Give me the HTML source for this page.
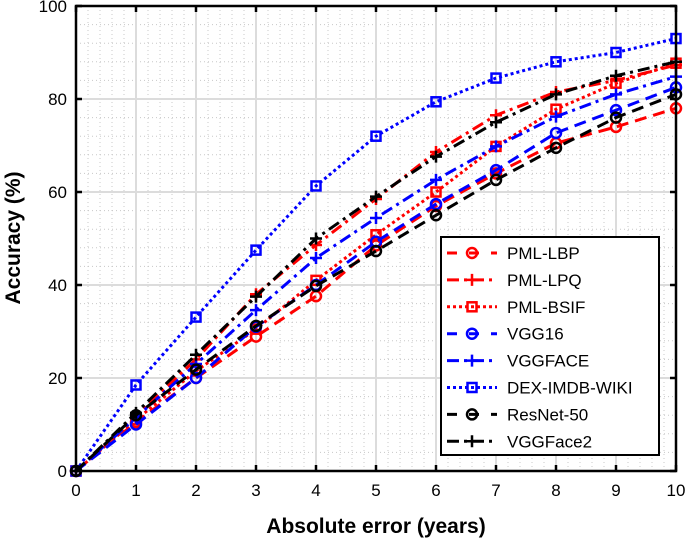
<!DOCTYPE html>
<html><head><meta charset="utf-8"><style>
html,body{margin:0;padding:0;background:#fff}
svg{display:block;font-family:"Liberation Sans",Arial,sans-serif}
</style></head><body>
<svg id="c" width="685" height="541" viewBox="0 0 685 541">
<g id="grid"></g><g id="series"></g><g id="axes"></g><g id="legend"></g>
</svg>
<script>
const xTicks=[0,1,2,3,4,5,6,7,8,9,10];
const yTicks=[0,20,40,60,80,100];
const names=["PML-LBP","PML-LPQ","PML-BSIF","VGG16","VGGFACE","DEX-IMDB-WIKI","ResNet-50","VGGFace2"];
const lbp=[0,10.5,20,28.9,37.6,48.5,57,64,70.5,74,78];
const lpq=[0,12,24,38,48.6,58.5,68.6,76.5,81.5,84,87.3];
const bsif=[0,11,21.5,30.5,41,50.8,60,69.8,77.8,83.4,87.7];
const vgg16=[0,10,20,31,40,49.3,57.4,64.7,72.7,77.6,82.5];
const vggface=[0,11.5,23,34.6,45.8,54.4,62.6,69.8,76.2,81,84.8];
const dex=[0,18.5,33.1,47.5,61.3,72,79.4,84.5,88,90,93];
const resnet=[0,12,21.8,31.2,39.8,47.3,55,62.6,69.5,76,81];
const vggface2=[0,12.5,25,37.5,50,59,67.6,75,81,85,88];
const data=[lbp,lpq,bsif,vgg16,vggface,dex,resnet,vggface2];
const colors=["#ff0000","#ff0000","#ff0000","#0000ff","#0000ff","#0000ff","#000000","#000000"];
const styles=["dash","dashdot","dot","dash","dashdot","dot","dash","dashdot"];
const markers=["o","+","s","o","+","s","o","+"];
const X0=76,X1=676,Y0=471,Y1=6;
const sx=v=>X0+(v-0)/(10-0)*(X1-X0);
const sy=v=>Y0-(v-0)/(100-0)*(Y0-Y1);
const NS="http://www.w3.org/2000/svg";
function mk(t,a,p){const e=document.createElementNS(NS,t);for(const k in a)e.setAttribute(k,a[k]);p.appendChild(e);return e;}
const dashes={dash:"12,7",dashdot:"12,5,3,5",dot:"3,3"};
const G=document.getElementById('grid');
// minor grid
for(let i=0;i<10;i++){for(let j=1;j<5;j++){const v=i+j*0.2;const l=mk('line',{x1:sx(v),x2:sx(v),y1:Y1,y2:Y0,stroke:'#c8c8c8','stroke-width':1,'stroke-dasharray':'1,3'},G);

}}
for(let i=0;i<100;i+=20){for(let j=1;j<5;j++){const v=i+j*4;const l=mk('line',{x1:X0,x2:X1,y1:sy(v),y2:sy(v),stroke:'#c8c8c8','stroke-width':1,'stroke-dasharray':'1,3'},G);

}}
xTicks.forEach(v=>{const l=mk('line',{x1:sx(v),x2:sx(v),y1:Y1,y2:Y0,stroke:'#dcdcdc','stroke-width':2},G);

});
yTicks.forEach(v=>{const l=mk('line',{x1:X0,x2:X1,y1:sy(v),y2:sy(v),stroke:'#dcdcdc','stroke-width':2},G);

});
function marker(m,x,y,c,p){let e;
 if(m==='o'){e=mk('circle',{cx:x,cy:y,r:5,fill:'none',stroke:c,'stroke-width':2.5},p);}
 else if(m==='s'){e=mk('rect',{x:x-4.5,y:y-4.5,width:9,height:9,fill:'none',stroke:c,'stroke-width':2.5},p);}
 else {e=mk('path',{d:`M${x-6},${y}H${x+6}M${x},${y-6}V${y+6}`,stroke:c,'stroke-width':2.5,fill:'none'},p);}
 return e;}
const S=document.getElementById('series');
data.forEach((arr,k)=>{const g=mk('g',{},S);
 
 
 const d=arr.map((v,i)=>(i?'L':'M')+sx(xTicks[i])+','+sy(v)).join('');
 const p=mk('path',{d:d,fill:'none',stroke:colors[k],'stroke-width':3,'stroke-dasharray':dashes[styles[k]]},g);
 
 
 arr.forEach((v,i)=>{const e=marker(markers[k],sx(xTicks[i]),sy(v),colors[k],g);
  
  });
});
const A=document.getElementById('axes');
const box=mk('rect',{x:X0,y:Y1,width:X1-X0,height:Y0-Y1,fill:'none',stroke:'#000','stroke-width':2.5},A);


xTicks.forEach(v=>{mk('line',{x1:sx(v),x2:sx(v),y1:Y0,y2:Y0-6,stroke:'#000','stroke-width':2.5},A);mk('line',{x1:sx(v),x2:sx(v),y1:Y1,y2:Y1+6,stroke:'#000','stroke-width':2.5},A);
 const t=mk('text',{x:sx(v),y:Y0+25,'text-anchor':'middle','font-size':17},A);t.textContent=v;
 
 });
yTicks.forEach(v=>{mk('line',{x1:X0,x2:X0+6,y1:sy(v),y2:sy(v),stroke:'#000','stroke-width':2.5},A);mk('line',{x1:X1,x2:X1-6,y1:sy(v),y2:sy(v),stroke:'#000','stroke-width':2.5},A);
 const t=mk('text',{x:X0-9,y:sy(v)+6,'text-anchor':'end','font-size':17},A);t.textContent=v;
 
 });
const xt=mk('text',{x:376,y:533,'text-anchor':'middle','font-size':21,'font-weight':'bold'},A);xt.textContent='Absolute error (years)';


const yt=mk('text',{x:0,y:0,'text-anchor':'middle','font-size':21,'font-weight':'bold',transform:'translate(20,238) rotate(-90)'},A);yt.textContent='Accuracy (%)';


const L=document.getElementById('legend');
const lb=mk('rect',{x:441,y:237,width:218,height:218,fill:'#fff',stroke:'#000','stroke-width':2},L);


names.forEach((n,k)=>{const y=253+k*26.9;const g=mk('g',{},L);
 
 
 mk('line',{x1:447,x2:497,y1:y,y2:y,stroke:colors[k],'stroke-width':3,'stroke-dasharray':styles[k]==='dash'?'10,12':dashes[styles[k]]},g);
 marker(markers[k],472,y,colors[k],g);
 const t=mk('text',{x:507,y:y+6,'font-size':17},g);t.textContent=n;});
</script>
</body></html>
